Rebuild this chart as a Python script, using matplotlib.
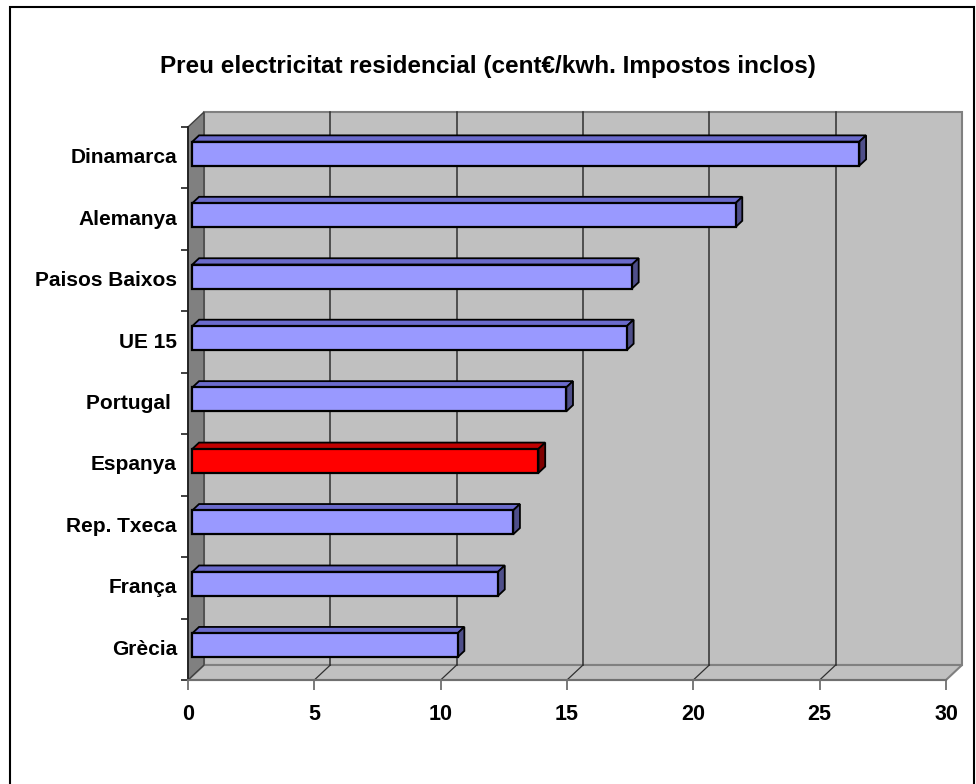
import matplotlib
matplotlib.use("Agg")
import matplotlib.pyplot as plt
from matplotlib.patches import Polygon, Rectangle
from matplotlib.lines import Line2D

plt.rcParams['font.family'] = ['Liberation Sans', 'DejaVu Sans']
plt.rcParams['font.weight'] = 'bold'

# Data (top to bottom as listed on the chart)
countries = ['Dinamarca', 'Alemanya', 'Paisos Baixos', 'UE 15', 'Portugal ',
             'Espanya', 'Rep. Txeca', 'França', 'Grècia']
prices = [26.4, 21.5, 17.4, 17.2, 14.8, 13.7, 12.7, 12.1, 10.5]
highlight = 'Espanya'
xticks = [0, 5, 10, 15, 20, 25, 30]
title = 'Preu electricitat residencial (cent€/kwh. Impostos inclos)'

W, H = 976, 784
fig = plt.figure(figsize=(W / 100, H / 100), dpi=100)
fig.patch.set_facecolor('white')

# front plane of the 3-D plot box, in pixels
L, R, T, B = 188, 946, 127, 680
ax = fig.add_axes([L / W, 1 - B / H, (R - L) / W, (B - T) / H])
n = len(countries)
ax.set_xlim(0, 30)
ax.set_ylim(-0.5, n - 0.5)
ax.set_facecolor('none')

# depth of the box (pixels) converted to data units
DX_PX, DY_PX = 16, 15
ux = 30 / (R - L)
uy = n / (B - T)
ddx, ddy = DX_PX * ux, DY_PX * uy
y0, y1 = -0.5, n - 0.5

wall = '#c0c0c0'
side = '#808080'
edge = '#808080'

# back wall
ax.add_patch(Rectangle((ddx, y0 + ddy), 30, n, facecolor=wall, edgecolor=edge,
                       lw=1.5, zorder=1, clip_on=False))
# left side wall
ax.add_patch(Polygon([(0, y0), (0, y1), (ddx, y1 + ddy), (ddx, y0 + ddy)],
                     closed=True, facecolor=side, edgecolor='#404040', lw=1,
                     zorder=1.2, clip_on=False))
# floor
ax.add_patch(Polygon([(0, y0), (30, y0), (30 + ddx, y0 + ddy), (ddx, y0 + ddy)],
                     closed=True, facecolor=wall, edgecolor=edge, lw=1.5,
                     zorder=1.1, clip_on=False))

# gridlines on back wall and floor
for xv in xticks[1:-1]:
    ax.add_line(Line2D([xv + ddx, xv + ddx], [y0 + ddy, y1 + ddy], color='#303030',
                       lw=1.1, zorder=1.5, clip_on=False))
    ax.add_line(Line2D([xv, xv + ddx], [y0, y0 + ddy], color='#303030',
                       lw=0.9, zorder=1.5, clip_on=False))

# bars
f0, f1 = 0.27, 0.69
bh = 24 * uy
ypos = [n - 1 - i for i in range(n)]
fronts = ['#ff0000' if c == highlight else '#9999ff' for c in countries]
tops = ['#c00000' if c == highlight else '#6b6bcc' for c in countries]
sides = ['#800000' if c == highlight else '#4f4f8a' for c in countries]
x0 = f0 * ddx
yo = f0 * ddy
bx, by = (f1 - f0) * ddx, (f1 - f0) * ddy
ax.barh([y + yo for y in ypos], prices, left=x0, height=bh, color=fronts,
        edgecolor='black', lw=1.6, zorder=3, clip_on=False)
for y, v, tc, sc in zip(ypos, prices, tops, sides):
    yb, yt = y + yo - bh / 2, y + yo + bh / 2
    xe = x0 + v
    ax.add_patch(Polygon([(x0, yt), (xe, yt), (xe + bx, yt + by), (x0 + bx, yt + by)],
                         closed=True, facecolor=tc, edgecolor='black', lw=1.3,
                         zorder=2.9, clip_on=False))
    ax.add_patch(Polygon([(xe, yb), (xe, yt), (xe + bx, yt + by), (xe + bx, yb + by)],
                         closed=True, facecolor=sc, edgecolor='black', lw=1.3,
                         zorder=2.9, clip_on=False))

# axes lines and ticks
for s in ['top', 'right']:
    ax.spines[s].set_visible(False)
ax.spines['left'].set_color('#202020')
ax.spines['left'].set_linewidth(1.3)
ax.spines['bottom'].set_color('#707070')
ax.spines['bottom'].set_linewidth(1.5)
ax.spines['left'].set_zorder(4)
ax.spines['bottom'].set_zorder(4)

ax.set_xticks(xticks)
ax.set_xticklabels([str(t) for t in xticks], fontsize=15.5, fontweight='bold')
ax.tick_params(axis='x', direction='out', length=7, width=1.3, color='#707070', pad=10)

ax.set_yticks([y - 0.5 for y in range(n + 1)])
ax.set_yticklabels([])
ax.tick_params(axis='y', direction='out', length=5, width=1.2, color='#202020')
for y, c in zip(ypos, countries):
    ax.annotate(c, xy=(0, y), xycoords=('axes fraction', 'data'),
                xytext=(-8, 0), textcoords='offset points', ha='right', va='center',
                fontsize=15, fontweight='bold')

# title
fig.text(488 / W, 1 - 73 / H, title, ha='center', va='baseline', fontsize=17.5,
         fontweight='bold')

# chart frame
fig.add_artist(Rectangle((10 / W, -0.02), (974 - 10) / W, (1 - 7 / H) + 0.02,
                         transform=fig.transFigure, facecolor='none',
                         edgecolor='black', lw=1.5))

fig.savefig('out.png', dpi=100)
